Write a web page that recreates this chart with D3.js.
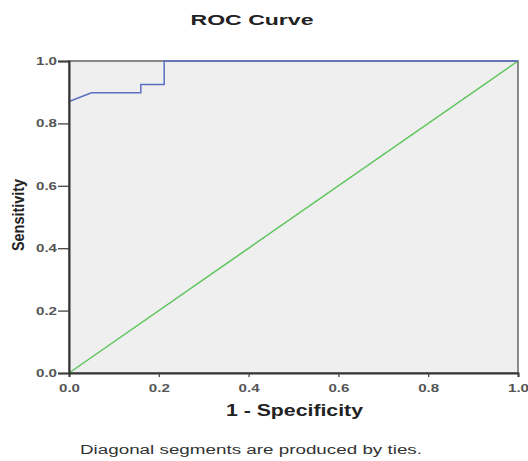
<!DOCTYPE html>
<html><head><meta charset="utf-8">
<script src="https://cdn.jsdelivr.net/npm/d3@7"></script>
<style>body{margin:0;background:#fff}svg{display:block}</style>
</head><body>
<script>
const rocFPR = [0, 0.05, 0.16, 0.16, 0.212, 0.212, 1];
const rocTPR = [0.87, 0.898, 0.898, 0.925, 0.925, 1, 1];
const diagFPR = [0, 1];
const diagTPR = [0, 1];
const tickValues = [0, 0.2, 0.4, 0.6, 0.8, 1.0];

const W = 528, H = 461;
const m = {left: 69, right: 10, top: 61, bottom: 88};
const svg = d3.select("body").append("svg").attr("width", W).attr("height", H);
const x = d3.scaleLinear().domain([0, 1]).range([m.left, W - m.right]);
const y = d3.scaleLinear().domain([0, 1]).range([H - m.bottom, m.top]);
const font = "'Liberation Sans', Arial, sans-serif";

svg.append("rect").attr("x", x(0)).attr("y", y(1)).attr("width", x(1) - x(0)).attr("height", y(0) - y(1))
  .attr("fill", "#efefef").attr("stroke", "#666").attr("stroke-width", 1.5);

const line = d3.line().x(d => x(d[0])).y(d => y(d[1]));
svg.append("path").datum(diagFPR.map((v, i) => [v, diagTPR[i]])).attr("d", line)
  .attr("fill", "none").attr("stroke", "#5cc45c").attr("stroke-width", 1.5);
svg.append("path").datum(rocFPR.map((v, i) => [v, rocTPR[i]])).attr("d", line)
  .attr("fill", "none").attr("stroke", "#5b6fc4").attr("stroke-width", 1.5);

const xa = svg.append("g").attr("transform", `translate(0,${y(0)})`)
  .call(d3.axisBottom(x).tickValues(tickValues).tickFormat(d3.format(".1f")).tickSizeOuter(0).tickSize(4).tickPadding(7));
const ya = svg.append("g").attr("transform", `translate(${x(0)},0)`)
  .call(d3.axisLeft(y).tickValues(tickValues).tickFormat(d3.format(".1f")).tickSizeOuter(0).tickSize(11).tickPadding(1));
[xa, ya].forEach(a => {
  a.select(".domain").attr("stroke", "#333").attr("stroke-width", 2);
  a.selectAll(".tick line").attr("stroke", "#444").attr("stroke-width", 1.3);
  a.selectAll(".tick text").attr("fill", "#555").attr("font-family", font).attr("font-size", 11).attr("font-weight", "bold")
    .attr("textLength", 21).attr("lengthAdjust", "spacingAndGlyphs");
});

function label(txt, cx, cy, size, len, weight, color, rot) {
  const t = svg.append("text").attr("text-anchor", "middle").attr("font-family", font)
    .attr("font-size", size).attr("font-weight", weight).attr("fill", color)
    .attr("textLength", len).attr("lengthAdjust", "spacingAndGlyphs").text(txt);
  if (rot) t.attr("transform", `translate(${cx},${cy}) rotate(-90)`);
  else t.attr("x", cx).attr("y", cy);
}
label("ROC Curve", 252, 25, 15, 123, "bold", "#222");
label("1 - Specificity", 294.5, 416, 16, 137, "bold", "#222");
label("Sensitivity", 24, 215, 17, 72, "bold", "#222", true);
label("Diagonal segments are produced by ties.", 251, 454, 12.5, 342, "normal", "#333");
</script>
</body></html>
